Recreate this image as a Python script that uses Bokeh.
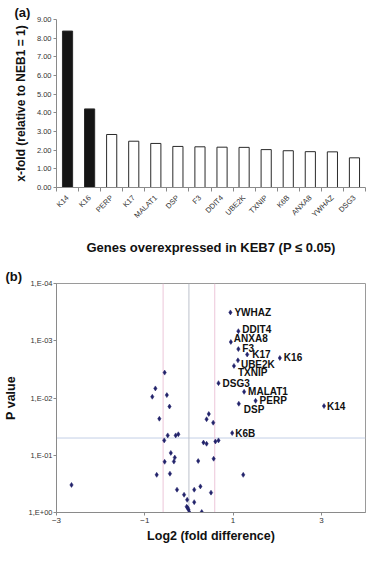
import math
from bokeh.plotting import figure
from bokeh.models import (ColumnDataSource, Range1d, FixedTicker, NumeralTickFormatter,
                          CustomJSTickFormatter, Span, Title)
from bokeh.layouts import column
from bokeh.embed import file_html
from bokeh.resources import INLINE
from bokeh.core.properties import value

# ---------------- data: panel (a) ----------------
genes = ["K14", "K16", "PERP", "K17", "MALAT1", "DSP", "F3", "DDIT4",
         "UBE2K", "TXNIP", "K6B", "ANXA8", "YWHAZ", "DSG3"]
fold = [8.38, 4.21, 2.84, 2.48, 2.36, 2.20, 2.18, 2.16, 2.15, 2.03, 1.97, 1.92, 1.91, 1.59]
highlighted = ["K14", "K16"]
y_ticks_a = [0, 1, 2, 3, 4, 5, 6, 7, 8, 9]

# ---------------- data: panel (b) ----------------
lab_genes = ["YWHAZ", "DDIT4", "ANXA8", "F3", "K17", "K16", "UBE2K", "TXNIP",
             "DSG3", "MALAT1", "PERP", "DSP", "K14", "K6B"]
lab_log2 = [0.94, 1.12, 0.95, 1.12, 1.32, 2.06, 1.11, 1.02, 0.67, 1.25, 1.51, 1.13, 3.06, 0.98]
lab_p = [3.2e-4, 6.8e-4, 1.05e-3, 1.4e-3, 1.74e-3, 2.0e-3, 2.2e-3, 2.75e-3,
         5.5e-3, 7.8e-3, 1.12e-2, 1.26e-2, 1.38e-2, 4.1e-2]
other_log2 = [-0.55, -0.76, -0.83, -0.50, -0.44, 0.45, -0.67, 0.40, 0.55, -0.48, -0.30,
              -0.24, -0.56, 0.33, 0.40, 0.60, 0.67, -0.41, -0.32, -0.55, -0.34, 0.21,
              0.56, -0.73, -0.43, 1.23, -2.66, -0.27, 0.12, 0.26, 0.50, -0.11, -0.04,
              0.12, -0.05, -0.03, -0.01, 0.01, 0.29]
other_p = [3.6e-3, 6.8e-3, 9.5e-3, 8.9e-3, 1.41e-2, 1.9e-2, 2.3e-2, 2.35e-2, 2.7e-2, 4.5e-2,
           4.5e-2, 4.3e-2, 5.5e-2, 6.0e-2, 6.3e-2, 5.75e-2, 5.5e-2, 9.1e-2, 0.11, 0.13,
           0.129, 0.126, 0.115, 0.22, 0.21, 0.22, 0.33, 0.40, 0.40, 0.35, 0.45, 0.49, 0.60,
           0.66, 0.79, 0.83, 0.89, 0.99, 0.98]
p_cut = 0.05
fc_cut = 0.585
x_ticks_b = [-3, -1, 1, 3]
y_ticks_b = [1e-4, 1e-3, 1e-2, 1e-1, 1]

# ---------------- styles ----------------
FONT = "Liberation Sans"
AXIS_COL = "#8a8a8a"
TICK_TXT = "#333333"
TXT = "#111111"
PT_COL = "#22236b"
# label offsets (px, dy positive = down) per labelled gene
lab_dx = [4, 4, 3, 4, 5, 4, 3, 4, 4, 4, 4, 5, 3, 3]
lab_dy = [0, -2, -3, -1, 0, 0, 4, 7, 0, 0, 0, 6, 0, 0]

W = 367
HA, HB = 258, 287


def style_title(ax, size, standoff):
    ax.axis_label_text_font = FONT
    ax.axis_label_text_font_style = "bold"
    ax.axis_label_text_font_size = size
    ax.axis_label_text_color = TXT
    ax.axis_label_standoff = standoff


def style_ticks(ax, size, standoff):
    ax.axis_line_color = AXIS_COL
    ax.major_tick_line_color = AXIS_COL
    ax.major_tick_in = 0
    ax.major_tick_out = 3
    ax.minor_tick_in = 0
    ax.major_label_text_font = FONT
    ax.major_label_text_font_size = size
    ax.major_label_text_color = TICK_TXT
    ax.major_label_standoff = standoff


def tag(text, left):
    return Title(text=text, align="left", offset=-left + 1, standoff=0,
                 text_font=FONT, text_font_style="bold", text_font_size="13px",
                 text_color=TXT)


# ================= panel (a) =================
LA, RA, TA, BA = 43, 2, 19, 58
pa = figure(width=W, height=HA, x_range=Range1d(0, len(genes)), y_range=Range1d(0, 9),
            output_backend="svg", toolbar_location=None, title=tag("(a)", 43),
            min_border_left=LA, min_border_right=RA, min_border_top=TA, min_border_bottom=BA)
pa.outline_line_color = None
pa.xgrid.visible = False
pa.ygrid.visible = False

src_a = ColumnDataSource(dict(
    x=[i + 0.5 for i in range(len(genes))],
    top=fold,
    fill=["#151515" if g in highlighted else "#ffffff" for g in genes],
))
pa.vbar(x="x", top="top", width=0.46, bottom=0, fill_color="fill", line_color="#2a2a2a",
        line_width=1, source=src_a)

pa.yaxis.ticker = FixedTicker(ticks=y_ticks_a, minor_ticks=[])
pa.yaxis.formatter = NumeralTickFormatter(format="0.00")
pa.xaxis.ticker = FixedTicker(ticks=[i + 0.5 for i in range(len(genes))],
                              minor_ticks=list(range(len(genes) + 1)))
pa.xaxis.formatter = CustomJSTickFormatter(args=dict(genes=genes),
                                           code="return genes[Math.floor(tick)];")
style_ticks(pa.yaxis, "7.5px", 2)
style_ticks(pa.xaxis, "7.5px", 5)
pa.xaxis.major_tick_line_color = None
pa.xaxis.major_tick_out = 4
pa.xaxis.minor_tick_line_color = AXIS_COL
pa.xaxis.minor_tick_out = 4
pa.xaxis.major_label_orientation = math.pi / 4

pa.yaxis.axis_label = "x-fold (relative to NEB1 = 1)"
style_title(pa.yaxis, "12px", 6)
pa.xaxis.axis_label = "Genes overexpressed in KEB7 (P \u2264 0.05)"
style_title(pa.xaxis, "13px", 14)

# ================= panel (b) =================
LB, RB, TB, BB = 52, 2, 25, 31
pb = figure(width=W, height=HB, x_range=Range1d(-3, 4), y_range=Range1d(1, 1e-4),
            y_axis_type="log", output_backend="svg", toolbar_location=None,
            title=tag("(b)", 52),
            min_border_left=LB, min_border_right=RB, min_border_top=TB, min_border_bottom=BB)
pb.outline_line_color = "#9a9a9a"
pb.xgrid.visible = False
pb.ygrid.visible = False

pb.add_layout(Span(location=p_cut, dimension="width", line_color="#c3cfe6", line_width=1,
                   level="underlay"))
pb.add_layout(Span(location=-fc_cut, dimension="height", line_color="#ecc6d9", line_width=1,
                   level="underlay"))
pb.add_layout(Span(location=fc_cut, dimension="height", line_color="#ecc6d9", line_width=1,
                   level="underlay"))
pb.add_layout(Span(location=0, dimension="height", line_color="#bcc1cb", line_width=1,
                   level="underlay"))

pb.scatter(other_log2, other_p, marker="diamond", size=5, fill_color=PT_COL,
           line_color=PT_COL, line_width=0.5)
src_l = ColumnDataSource(dict(x=lab_log2, y=lab_p, t=lab_genes, dx=lab_dx, dy=lab_dy))
pb.scatter("x", "y", marker="diamond", size=5, fill_color=PT_COL, line_color=PT_COL,
           line_width=0.5, source=src_l)
pb.text("x", "y", text="t", x_offset="dx", y_offset="dy", source=src_l,
        text_font=value(FONT), text_font_style="bold", text_font_size="10px",
        text_color=TXT, text_baseline="middle", text_align="left")

pb.xaxis.ticker = FixedTicker(ticks=x_ticks_b, minor_ticks=[])
pb.xaxis.formatter = CustomJSTickFormatter(
    code="return tick < 0 ? '\\u2212' + Math.abs(tick) : String(tick);")
pb.yaxis.ticker = FixedTicker(ticks=y_ticks_b, minor_ticks=[])
pb.yaxis.formatter = CustomJSTickFormatter(
    code="const e = Math.round(Math.log10(tick)); "
         "return '1,E' + (e < 0 ? '-' : '+') + String(Math.abs(e)).padStart(2, '0');")
style_ticks(pb.yaxis, "7.5px", 1)
style_ticks(pb.xaxis, "8px", 2)

pb.yaxis.axis_label = "P value"
style_title(pb.yaxis, "12.5px", 8)
pb.xaxis.axis_label = "Log2 (fold difference)"
style_title(pb.xaxis, "12.5px", 3)

layout = column(pa, pb, spacing=0)
open("out.html", "w").write(file_html(layout, INLINE))
